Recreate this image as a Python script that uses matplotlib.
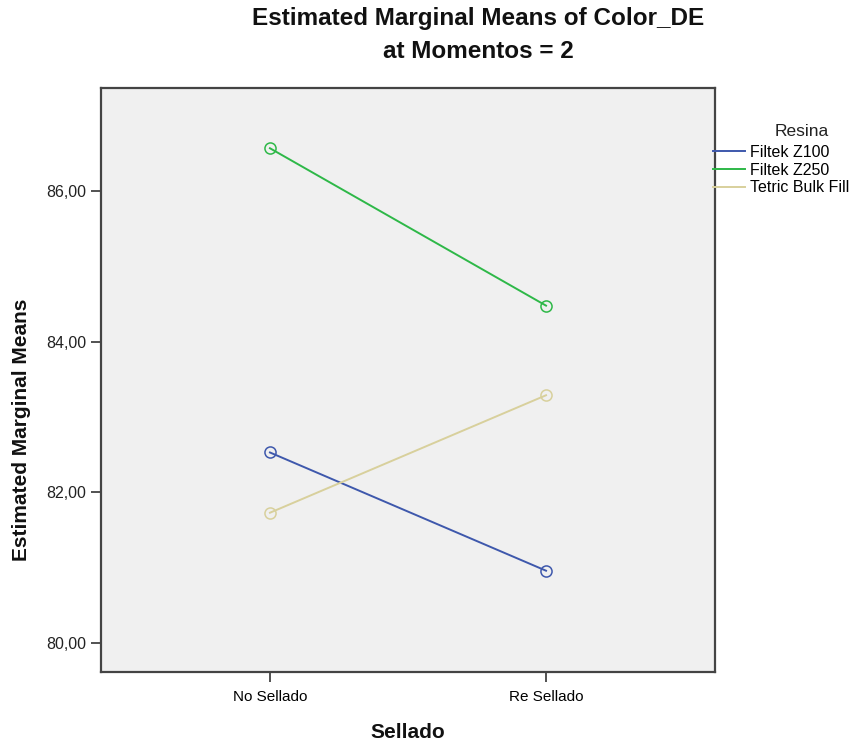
import matplotlib
matplotlib.use("Agg")
import matplotlib.pyplot as plt
from matplotlib.lines import Line2D

plt.rcParams['font.family'] = ['Liberation Sans', 'DejaVu Sans']

# data
sellado = ["No Sellado", "Re Sellado"]
resinas = ["Filtek Z100", "Filtek Z250", "Tetric Bulk Fill"]
z100 = [82.53, 80.96]
z250 = [86.57, 84.48]
tetric = [81.73, 83.29]
colores = ["#3e58ac", "#2eb848", "#d8d09c"]
y_ticks = [80, 82, 84, 86]
y_tick_labels = ["80,00", "82,00", "84,00", "86,00"]

fig = plt.figure(figsize=(8.6, 7.46), dpi=100)
ax = fig.add_axes([101 / 860, 1 - 672 / 746, 614 / 860, 584 / 746])
ax.set_facecolor("#f0f0f0")

x = list(range(len(sellado)))
for serie, nombre, color in zip([z100, z250, tetric], resinas, colores):
    ax.plot(x, serie, color=color, lw=1.4, marker="o", markersize=8,
            markerfacecolor="none", markeredgecolor=color, markeredgewidth=1.1,
            label=nombre)

ax.set_xlim(-0.612, 1.612)
ax.set_ylim(79.615, 87.37)
ax.set_xticks(x)
ax.set_xticklabels(sellado, fontsize=11)
ax.set_yticks(y_ticks)
ax.set_yticklabels(y_tick_labels, fontsize=11.5, color="#222222")
ax.tick_params(axis="both", direction="out", length=7, width=1.2, color="#333333")
ax.tick_params(axis="x", pad=6)
for s in ax.spines.values():
    s.set_color("#444444")
    s.set_linewidth(1.6)

fig.text(408 / 860, 1 - 732 / 746, "Sellado", ha="center", va="center",
         fontsize=15, fontweight="bold", color="#111111")
fig.text(22 / 860, 1 - 430 / 746, "Estimated Marginal Means", ha="center",
         va="center", rotation=90, fontsize=15, fontweight="bold", color="#111111")
fig.text(478 / 860, 1 - 18 / 746, "Estimated Marginal Means of Color_DE",
         ha="center", va="center", fontsize=17.5, fontweight="bold", color="#111111")
fig.text(478 / 860, 1 - 52 / 746, "at Momentos = 2", ha="center", va="center",
         fontsize=17.5, fontweight="bold", color="#111111")

# legend outside the plot area, lines only
fig.text(802 / 860, 1 - 131 / 746, "Resina", ha="center", va="center",
         fontsize=12.5, color="#222222")
handles = [Line2D([], [], color=c, lw=1.4) for c in colores]
leg = fig.legend(handles, resinas, loc="upper left",
                 bbox_to_anchor=(713 / 860, 1 - 145 / 746), frameon=False,
                 fontsize=11.5, handlelength=2.0, handletextpad=0.3,
                 labelspacing=0.17, borderpad=0, borderaxespad=0)

fig.savefig("out.png", dpi=100)
